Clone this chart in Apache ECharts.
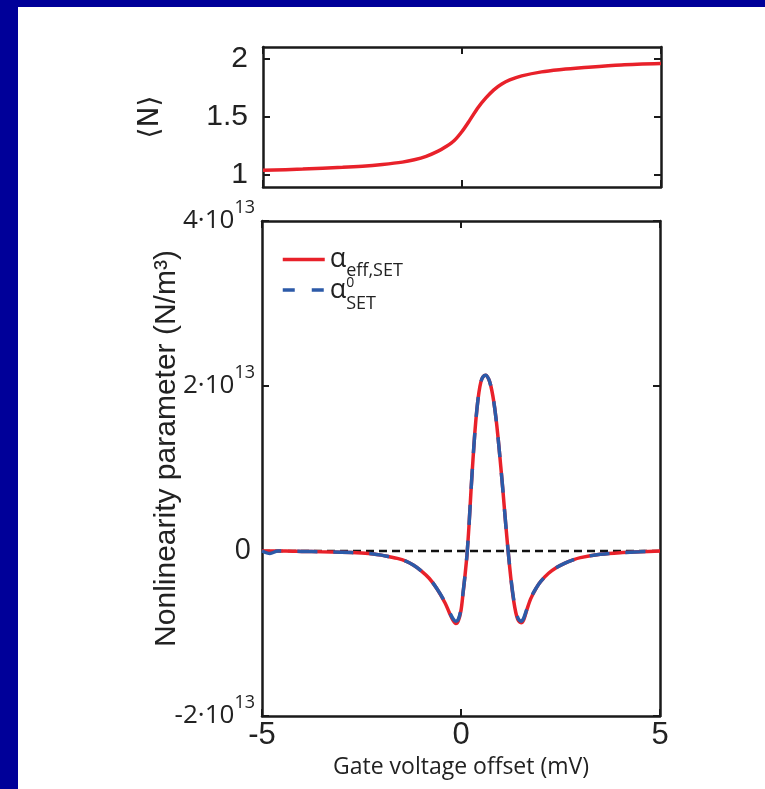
<!DOCTYPE html>
<html>
<head>
<meta charset="utf-8">
<script src="https://cdn.jsdelivr.net/npm/echarts@6/dist/echarts.min.js"></script>
<style>
  html, body { margin: 0; padding: 0; }
  body { width: 765px; height: 789px; background: #000099; position: relative; overflow: hidden; }
  #main { position: absolute; left: 18px; top: 7px; width: 747px; height: 782px; background: #fff; }
</style>
</head>
<body>
<div id="main"></div>
<script>
// gate voltage offset (mV), top panel
const nX = [-5, -4, -3, -2.5, -2, -1.5, -1.2, -0.9, -0.6, -0.4, -0.2, 0, 0.2, 0.4, 0.6, 0.8, 1.0, 1.2, 1.5, 2, 2.5, 3, 4, 5]
// <N>
const nMean = [1.034, 1.045, 1.06, 1.07, 1.085, 1.105, 1.125, 1.155, 1.2, 1.24, 1.29, 1.37, 1.47, 1.575, 1.66, 1.73, 1.78, 1.815, 1.85, 1.885, 1.905, 1.92, 1.945, 1.957]

// gate voltage offset (mV), bottom panel
const gateX = [-5, -4.8, -4.6, -4.4, -4, -3.5, -3, -2.5, -2.2, -2, -1.8, -1.6, -1.4, -1.2, -1.0, -0.8, -0.6, -0.4, -0.3, -0.2, -0.13, -0.07, 0, 0.05, 0.1, 0.15, 0.2, 0.25, 0.3, 0.35, 0.4, 0.45, 0.5, 0.55, 0.62, 0.7, 0.75, 0.8, 0.85, 0.9, 0.95, 1.0, 1.05, 1.1, 1.15, 1.2, 1.25, 1.3, 1.35, 1.4, 1.45, 1.51, 1.57, 1.65, 1.75, 1.9, 2.0, 2.2, 2.4, 2.6, 2.8, 3.0, 3.5, 4.0, 4.5, 5.0]
// alpha_eff,SET (10^13 N/m^3)
const alphaEff = [0, 0, 0, 0, -0.005, -0.01, -0.015, -0.025, -0.035, -0.05, -0.07, -0.09, -0.12, -0.17, -0.24, -0.33, -0.46, -0.63, -0.74, -0.84, -0.88, -0.85, -0.72, -0.52, -0.3, -0.05, 0.3, 0.72, 1.1, 1.45, 1.72, 1.92, 2.05, 2.11, 2.13, 2.08, 2.0, 1.88, 1.72, 1.52, 1.28, 1.02, 0.75, 0.46, 0.18, -0.08, -0.32, -0.52, -0.68, -0.79, -0.85, -0.87, -0.84, -0.72, -0.58, -0.44, -0.37, -0.27, -0.2, -0.15, -0.11, -0.08, -0.04, -0.02, -0.01, 0]
// alpha^0_SET (10^13 N/m^3)
const alpha0 = [0, -0.03, 0, 0, -0.005, -0.01, -0.015, -0.025, -0.035, -0.05, -0.07, -0.09, -0.12, -0.17, -0.24, -0.33, -0.46, -0.62, -0.73, -0.82, -0.85, -0.83, -0.71, -0.51, -0.3, -0.05, 0.3, 0.72, 1.1, 1.45, 1.72, 1.92, 2.05, 2.11, 2.13, 2.08, 2.0, 1.88, 1.72, 1.52, 1.28, 1.02, 0.75, 0.46, 0.18, -0.08, -0.31, -0.51, -0.66, -0.77, -0.83, -0.85, -0.82, -0.71, -0.57, -0.44, -0.37, -0.27, -0.2, -0.15, -0.11, -0.08, -0.04, -0.02, -0.01, 0]
// zero reference
const zeroX = [-5, 5]
const zeroY = [0, 0]

const nTicks = [1, 1.5, 2]

const RED = '#e8212a'
const BLUE = '#2c5aa8'
const FONT = 'Liberation Sans'
const FONT2 = 'Open Sans'

const myChart = echarts.init(document.getElementById('main'))

const axisLine = { show: true, onZero: false, lineStyle: { color: '#1a1a1a', width: 2.5 } }
const tick = { show: true, inside: true, length: 7, lineStyle: { color: '#1a1a1a', width: 2 } }

// 4·10^13 style tick labels
const supLabel = (v) => {
  if (v === 0) return '{z|0}'
  return '{b|' + v + '·10}{s|13}'
}

const option = {
  animation: false,
  grid: [
    { left: 245, top: 40, width: 398, height: 140 },
    { left: 244, top: 214, width: 398, height: 495 }
  ],
  legend: {
    left: 258,
    top: 234,
    orient: 'vertical',
    itemWidth: 42,
    itemHeight: 14,
    itemGap: -4,
    itemStyle: { opacity: 0 },
    data: [
      { name: 'eff', lineStyle: { color: RED, width: 3.5, type: 'solid', opacity: 1 } },
      { name: 'zero', lineStyle: { color: BLUE, width: 3.5, type: [12, 17], opacity: 1 } }
    ],
    formatter: (name) => name === 'eff'
      ? '{a|α}{sub|eff,SET}'
      : '{a|α}{sup|0}{sub2|SET}',
    textStyle: {
      rich: {
        a: { fontSize: 27, fontFamily: FONT2, color: '#222', lineHeight: 30 },
        sub: { fontSize: 18, fontFamily: FONT2, color: '#222', padding: [23, 0, 0, 0] },
        sub2: { fontSize: 18, fontFamily: FONT2, color: '#222', padding: [28, 0, 0, 0] },
        sup: { fontSize: 14, fontFamily: FONT2, color: '#222', padding: [0, 0, 14, 0], width: 0 }
      }
    }
  },
  xAxis: [
    { gridIndex: 0, type: 'value', min: -5, max: 5, interval: 5, position: 'bottom',
      axisLine, axisTick: tick, axisLabel: { show: false }, splitLine: { show: false } },
    { gridIndex: 0, type: 'value', min: -5, max: 5, interval: 5, position: 'top',
      axisLine, axisTick: tick, axisLabel: { show: false }, splitLine: { show: false } },
    { gridIndex: 1, type: 'value', min: -5, max: 5, interval: 5, position: 'bottom',
      axisLine, axisTick: tick, splitLine: { show: false },
      axisLabel: { fontSize: 31, fontFamily: FONT, color: '#222', margin: 4 },
      name: 'Gate voltage offset (mV)', nameLocation: 'middle', nameGap: 35,
      nameTextStyle: { fontSize: 23, fontFamily: FONT2, color: '#222' } },
    { gridIndex: 1, type: 'value', min: -5, max: 5, interval: 5, position: 'top',
      axisLine, axisTick: tick, axisLabel: { show: false }, splitLine: { show: false } }
  ],
  yAxis: [
    { gridIndex: 0, type: 'value', min: 0.89, max: 2.1, position: 'left',
      axisLine, splitLine: { show: false },
      axisTick: Object.assign({ customValues: nTicks }, tick),
      axisLabel: { customValues: nTicks, fontSize: 30, fontFamily: FONT, color: '#222', margin: 15 },
      name: '⟨N⟩', nameLocation: 'middle', nameGap: 98,
      nameTextStyle: { fontSize: 28, fontFamily: 'DejaVu Sans', color: '#222' } },
    { gridIndex: 0, type: 'value', min: 0.89, max: 2.1, position: 'right',
      axisLine, splitLine: { show: false },
      axisTick: Object.assign({ customValues: nTicks }, tick),
      axisLabel: { show: false } },
    { gridIndex: 1, type: 'value', min: -2, max: 4, interval: 2, position: 'left',
      axisLine, axisTick: tick, splitLine: { show: false },
      axisLabel: {
        margin: 7,
        formatter: supLabel,
        rich: {
          b: { fontSize: 26, fontFamily: FONT2, color: '#222' },
          z: { fontSize: 29, fontFamily: FONT2, color: '#222', padding: [0, 4, 0, 0] },
          s: { fontSize: 18, fontFamily: FONT2, color: '#222', padding: [0, 0, 26, 0] }
        }
      },
      name: 'Nonlinearity parameter (N/m³)', nameLocation: 'middle', nameGap: 80,
      nameMoveOverlap: false,
      nameTextStyle: { fontSize: 30, fontFamily: FONT, color: '#222', padding: [0, 0, 0, 40] } },
    { gridIndex: 1, type: 'value', min: -2, max: 4, interval: 2, position: 'right',
      axisLine, axisTick: tick, axisLabel: { show: false }, splitLine: { show: false } }
  ],
  series: [
    {
      name: 'N', type: 'line', xAxisIndex: 0, yAxisIndex: 0,
      data: nX.map((x, i) => [x, nMean[i]]),
      smooth: 0.3, symbol: 'none',
      lineStyle: { color: RED, width: 3.5 }
    },
    {
      name: 'base', type: 'line', xAxisIndex: 2, yAxisIndex: 2,
      data: zeroX.map((x, i) => [x, zeroY[i]]),
      symbol: 'none', z: 1,
      lineStyle: { color: '#111', width: 2.5, type: [8, 5] }
    },
    {
      name: 'eff', type: 'line', xAxisIndex: 2, yAxisIndex: 2,
      data: gateX.map((x, i) => [x, alphaEff[i]]),
      smooth: 0.3, symbol: 'none', z: 2,
      itemStyle: { color: RED },
      lineStyle: { color: RED, width: 3.5 }
    },
    {
      name: 'zero', type: 'line', xAxisIndex: 2, yAxisIndex: 2,
      data: gateX.map((x, i) => [x, alpha0[i]]),
      smooth: 0.3, symbol: 'none', z: 3,
      itemStyle: { color: BLUE },
      lineStyle: { color: BLUE, width: 3.5, type: [20, 16] }
    }
  ]
}

option && myChart.setOption(option)
</script>
</body>
</html>
